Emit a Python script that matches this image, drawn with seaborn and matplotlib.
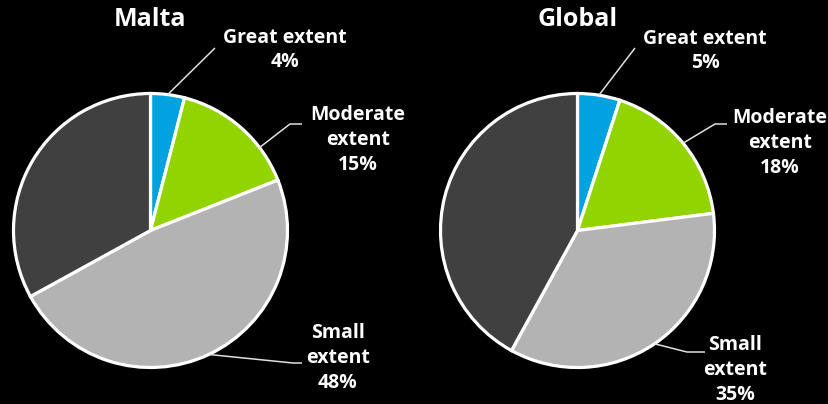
import matplotlib
matplotlib.use("Agg")
import matplotlib.pyplot as plt
import seaborn as sns
import numpy as np

# ---- data ----
regions = ["Malta", "Global"]
categories = ["Great extent", "Moderate extent", "Small extent", "Other"]
label_names = ["Great extent", "Moderate\nextent", "Small\nextent", None]
malta_values = [4, 15, 48, 33]
global_values = [5, 18, 35, 42]
colors = ["#00A3E0", "#92D400", "#B3B3B3", "#404040"]

values_by_region = {"Malta": malta_values, "Global": global_values}

# ---- style ----
sns.set_theme(style="white", rc={"figure.facecolor": "black", "axes.facecolor": "black"})
plt.rcParams["font.family"] = ["Open Sans", "DejaVu Sans"]

W, H = 829, 404
fig = plt.figure(figsize=(W / 100, H / 100), dpi=100, facecolor="black")
ax = fig.add_axes([0, 0, 1, 1])

# layout in image pixel coordinates (y from top); each label:
# (text centre, elbow point, end point, attach fraction along wedge arc)
layout = {
    "Malta": dict(center=(150.5, 230.5), radius=137, title=(150, 19),
                  labels=[((285, 50), (215, 48), None, 0.5),
                          ((358, 140), (290, 124), (302, 124), 0.29),
                          ((338, 358), (293, 363), (302, 363), 0.5)]),
    "Global": dict(center=(577.5, 230.5), radius=137, title=(578, 19),
                   labels=[((705, 51), (635, 48), None, 0.5),
                           ((780, 143), (715, 124), (727, 124), 0.5),
                           ((735, 370), (687, 352), (705, 352), 0.5)]),
}

def fy(y):
    return H - y

for region in regions:
    vals = values_by_region[region]
    lay = layout[region]
    cx, cy = lay["center"][0], fy(lay["center"][1])
    r = lay["radius"]
    wedges, _ = ax.pie(vals, colors=colors, startangle=90, counterclock=False,
                       center=(cx, cy), radius=r,
                       wedgeprops=dict(edgecolor="white", linewidth=2.3))
    ax.text(lay["title"][0], fy(lay["title"][1]), region, color="white",
            fontsize=18, fontweight="bold", ha="center", va="center")
    for i, (name, v) in enumerate(zip(label_names, vals)):
        if name is None:
            continue
        w = wedges[i]
        (tx, ty), elbow, end, frac = lay["labels"][i]
        ang = np.deg2rad(w.theta1 + frac * (w.theta2 - w.theta1))
        ex, ey = cx + r * np.cos(ang), cy + r * np.sin(ang)
        xs = [ex, elbow[0]]
        ys = [ey, fy(elbow[1])]
        if end is not None:
            xs.append(end[0])
            ys.append(fy(end[1]))
        ax.plot(xs, ys, color="#E0E0E0", lw=1.1, solid_capstyle="butt")
        ax.text(tx, fy(ty), f"{name}\n{v}%", color="white", fontsize=14,
                fontweight="bold", ha="center", va="center", linespacing=1.32)

ax.set_xlim(0, W)
ax.set_ylim(0, H)
ax.set_aspect("equal")
ax.axis("off")

fig.savefig("out.png", dpi=100, facecolor="black")
